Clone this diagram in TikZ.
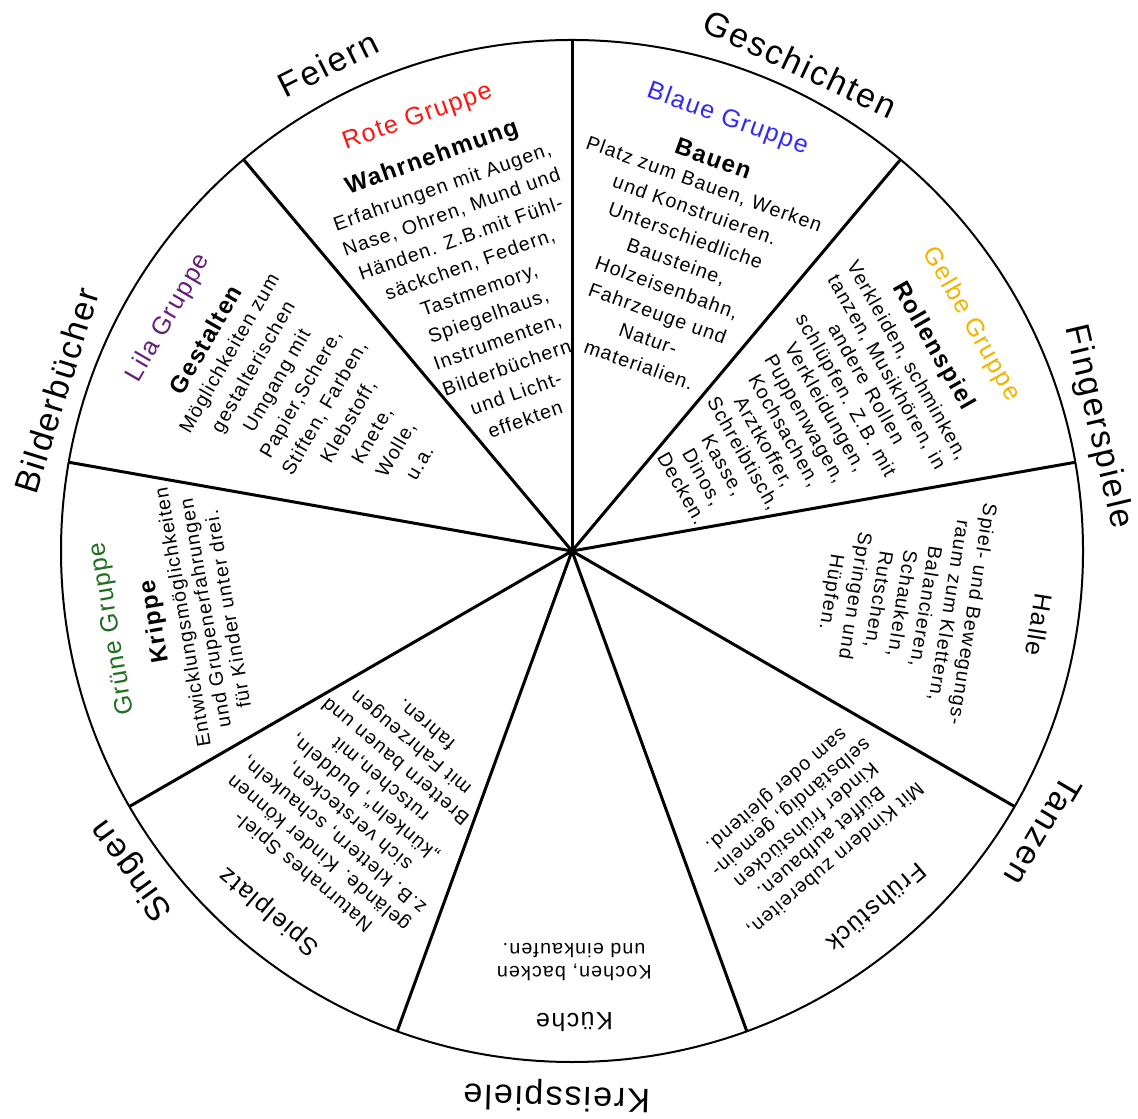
\documentclass[tikz,border=0pt]{standalone}
\usepackage{fontspec}
\setmainfont{Liberation Sans}
\newfontfamily\wf[LetterSpace=6]{Liberation Sans}
\definecolor{cred}{RGB}{255,20,20}
\definecolor{cblue}{RGB}{50,40,255}
\definecolor{cyellow}{RGB}{240,180,0}
\definecolor{cgreen}{RGB}{30,110,30}
\definecolor{cpurple}{RGB}{100,30,120}
\tikzset{
  body/.style={inner sep=0pt, align=center, anchor=north, font=\wf\fontsize{9.8}{13.75}\selectfont},
  bodyt/.style={inner sep=0pt, align=center, anchor=north, font=\wf\fontsize{9.8}{#1}\selectfont},
  grp/.style={inner sep=0pt, font=\wf\fontsize{12.5}{14}\selectfont},
  head/.style={inner sep=0pt, font=\wf\bfseries\fontsize{12}{14}\selectfont},
  place/.style={inner sep=0pt, font=\wf\fontsize{12.5}{14}\selectfont},
  outer/.style={inner sep=0pt, font=\wf\fontsize{17}{20}\selectfont},
  rim/.style={line width=1pt},
  spoke/.style={line width=1.5pt}
}
\begin{document}
\begin{tikzpicture}[x=0.5pt,y=0.5pt]
\fill[white] (0,0) rectangle (1138,1118);
\useasboundingbox (0,0) rectangle (1138,1118);
\coordinate (c) at (572,567);
\draw[rim] (c) circle[radius=255.5pt];
\foreach \a [count=\i] in {90,50,10,-30,-70,-110,-150,170,130}{
  \coordinate (s\i) at ([shift={(\a:511)}]c);
  \draw[spoke] (c) -- (s\i);
}
% outer labels
\node[outer, rotate=26.6]  (o1) at ([shift={(116.6:545)}]c) {Feiern};
\node[outer, rotate=-25.1] (o2) at ([shift={(64.9:538)}]c) {Geschichten};
\node[outer, rotate=-76.7] (o3) at ([shift={(13.3:540)}]c) {Fingerspiele};
\node[outer, rotate=-120.7](o4) at ([shift={(-30.7:548)}]c) {Tanzen};
\node[outer, rotate=-181.6](o5) at ([shift={(-91.6:545)}]c) {Kreisspiele};
\node[outer, rotate=126]   (o6) at ([shift={(-144:543)}]c) {Singen};
\node[outer, rotate=72.7]  (o7) at ([shift={(162.7:540)}]c) {Bilderbücher};
% Rote
\node[grp, text=cred, rotate=19.6] (rt) at ([shift={(109.6:460)}]c) {Rote Gruppe};
\node[head, rotate=19.6] (rh) at ([shift={(109.6:417)}]c) {Wahrnehmung};
\node[body, rotate=19.6] (rb) at ([shift={(109.6:395)}]c) {Erfahrungen mit Augen,\\Nase, Ohren, Mund und\\Händen. Z.B.mit Fühl-\\säckchen, Federn,\\Tastmemory,\\Spiegelhaus,\\Instrumenten,\\Bilderbüchern\\und Licht-\\effekten};
% Blaue
\node[grp, text=cblue, rotate=-19.8] (bt) at ([shift={(70.2:459)}]c) {Blaue Gruppe};
\node[head, rotate=-19.8] (bh) at ([shift={(70.2:417)}]c) {Bauen};
\node[body, rotate=-19.8] (bb) at ([shift={(70.2:398)}]c) {Platz zum Bauen, Werken\\und Konstruieren.\\Unterschiedliche\\Bausteine,\\Holzeisenbahn,\\Fahrzeuge und\\Natur-\\materialien.};
% Gelbe
\node[grp, text=cyellow, rotate=-60.4] (gt) at ([shift={(29.6:459)}]c) {Gelbe Gruppe};
\node[head, rotate=-60.4] (gh) at ([shift={(29.6:415)}]c) {Rollenspiel};
\node[bodyt=11.8, rotate=-60.4] (gb) at ([shift={(29.6:394)}]c) {Verkleiden, schminken,\\tanzen, Musikhören, in\\andere Rollen\\schlüpfen. Z.B. mit\\Verkleidungen,\\Puppenwagen,\\Kochsachen,\\Arztkoffer,\\Schreibtisch,\\Kasse,\\Dinos,\\Decken.};
% Halle
\node[place, rotate=-99] (hh) at ([shift={(-9:473)}]c) {Halle};
\node[bodyt=11.9, rotate=-99] (hb) at ([shift={(-9:414)}]c) {Spiel- und Bewegungs-\\raum zum Klettern,\\Balancieren,\\Schaukeln,\\Rutschen,\\Springen und\\Hüpfen.};
% Fruehstueck
\node[place, rotate=-139.5] (fh) at ([shift={(-49.5:469)}]c) {Frühstück};
\node[bodyt=11.3, rotate=-139.5] (fb) at ([shift={(-49.5:414)}]c) {Mit Kindern zubereiten,\\Büffet aufbauen.\\Kinder frühstücken\\selbständig, gemein-\\sam oder gleitend.};
% Kueche
\node[place, rotate=-179.7] (kh) at ([shift={(-89.7:471)}]c) {Küche};
\node[bodyt=11.5, rotate=-179.7] (kb) at ([shift={(-89.7:430)}]c) {Kochen, backen\\und einkaufen.};
% Spielplatz
\node[place, rotate=140] (ph) at ([shift={(-130:470)}]c) {Spielplatz};
\node[bodyt=12, rotate=140] (pb) at ([shift={(-130:427)}]c) {Naturnahes Spiel-\\gelände. Kinder können\\z.B. klettern, schaukeln,\\sich verstecken,\\„künkeln“, buddeln,\\rutschen,mit\\Brettern bauen und\\mit Fahrzeugen\\fahren.};
% Gruene
\node[grp, text=cgreen, rotate=99.6] (nt) at ([shift={(189.6:466)}]c) {Grüne Gruppe};
\node[head, rotate=99.6] (nh) at ([shift={(189.6:423)}]c) {Krippe};
\node[bodyt=11.5, rotate=99.6] (nb) at ([shift={(189.6:403)}]c) {Entwicklungsmöglichkeiten\\und Grupenerfahrungen\\für Kinder unter drei.};
% Lila
\node[grp, text=cpurple, rotate=60] (lt) at ([shift={(150:466)}]c) {Lila Gruppe};
\node[head, rotate=60] (lh) at ([shift={(150:423)}]c) {Gestalten};
\node[body, rotate=60] (lb) at ([shift={(150:404)}]c) {Möglichkeiten zum\\gestalterischen\\Umgang mit\\Papier,Schere,\\Stiften, Farben,\\Klebstoff,\\Knete,\\Wolle,\\u.a.};
\end{tikzpicture}
\end{document}
